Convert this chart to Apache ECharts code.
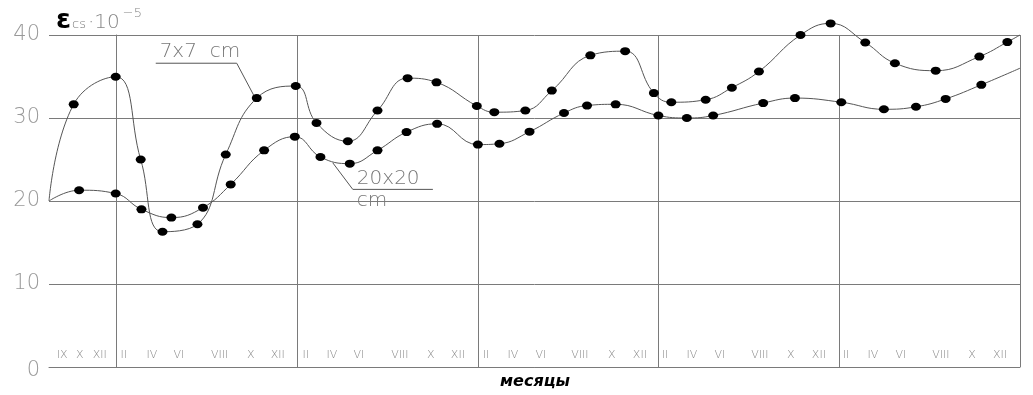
<!DOCTYPE html>
<html>
<head>
<meta charset="utf-8">
<script src="https://cdn.jsdelivr.net/npm/echarts@6/dist/echarts.min.js"></script>
<style>
html, body { margin: 0; padding: 0; background: #fff; }
#container { width: 1033px; height: 395px; }
</style>
</head>
<body>
<div id="container"></div>
<script>
// x = months counted from the first January (0, 12, 24 ... are year boundaries)
const months7 = [-4.5, -2.86, -0.07, 1.59, 3.04, 5.36, 7.24, 9.30, 11.89, 13.27, 15.35, 17.32, 19.32, 21.24, 23.92, 25.08, 27.14, 28.90, 31.46, 33.77, 35.68, 36.84, 39.12, 40.86, 42.66, 45.42, 47.42, 49.72, 51.69, 54.40, 57.30, 59.16, 60];
const values7 = [20.0, 31.65, 34.97, 25.0, 16.3, 17.2, 25.6, 32.4, 33.85, 29.4, 27.2, 30.9, 34.8, 34.3, 31.45, 30.7, 30.9, 33.3, 37.55, 38.05, 33.0, 31.9, 32.2, 33.65, 35.6, 40.0, 41.4, 39.1, 36.6, 35.7, 37.4, 39.15, 40.0];

const months20 = [-4.5, -2.50, -0.07, 1.64, 3.63, 5.73, 7.57, 9.79, 11.83, 13.53, 15.48, 17.32, 19.25, 21.28, 23.99, 25.42, 27.42, 29.71, 31.24, 33.14, 35.98, 37.87, 39.62, 42.94, 45.05, 48.13, 50.96, 53.09, 55.06, 57.43, 60];
const values20 = [20.0, 21.3, 20.9, 19.0, 18.0, 19.2, 22.0, 26.1, 27.75, 25.3, 24.5, 26.1, 28.3, 29.3, 26.8, 26.9, 28.35, 30.6, 31.5, 31.65, 30.3, 30.0, 30.3, 31.8, 32.4, 31.9, 31.05, 31.35, 32.3, 34.0, 36.0];

const monthLabelPos = [-3.62, -2.46, -1.13,
	0.47, 2.33, 4.12, 6.84, 8.90, 10.70,
	12.56, 14.29, 16.08, 18.80, 20.86, 22.66,
	24.52, 26.31, 28.17, 30.76, 32.89, 34.75,
	36.41, 38.21, 40.07, 42.72, 44.78, 46.64,
	48.44, 50.23, 52.09, 54.75, 56.81, 58.67];
const monthLabelText = ['IX', 'X', 'XII',
	'II', 'IV', 'VI', 'VIII', 'X', 'XII',
	'II', 'IV', 'VI', 'VIII', 'X', 'XII',
	'II', 'IV', 'VI', 'VIII', 'X', 'XII',
	'II', 'IV', 'VI', 'VIII', 'X', 'XII',
	'II', 'IV', 'VI', 'VIII', 'X', 'XII'];
const yearBounds = [0, 12, 24, 36, 48, 60];

const dom = document.getElementById('container');
const myChart = echarts.init(dom);

const thinFont = 'DejaVu Sans';
const gridColor = '#7a7a7a';

function toData(xs, ys) {
	return xs.map((x, i) => {
		const item = { value: [x, ys[i]] };
		if (i === 0 || i === xs.length - 1) item.symbol = 'none';
		return item;
	});
}

const lineSeries = (name, xs, ys) => ({
	name: name,
	type: 'line',
	data: toData(xs, ys),
	smooth: 0.45,
	clip: false,
	symbol: 'circle',
	symbolSize: [10, 8],
	showAllSymbol: true,
	itemStyle: { color: '#000' },
	lineStyle: { color: '#555', width: 1 },
	emphasis: { disabled: true },
});

const option = {
	animation: false,
	title: {
		left: 51,
		top: 2,
		text: '{e|ε}{s|cs}{n|·10}{p|−5}',
		textStyle: {
			rich: {
				e: { fontFamily: 'DejaVu Sans', fontSize: 27, fontWeight: 'bold', color: '#000', verticalAlign: 'bottom' },
				s: { fontFamily: thinFont, fontSize: 13, fontWeight: 200, color: '#777', verticalAlign: 'bottom', padding: [0, 2, 3, 1] },
				n: { fontFamily: thinFont, fontSize: 20, fontWeight: 200, color: '#888', verticalAlign: 'bottom', padding: [0, 0, 1, 0] },
				p: { fontFamily: thinFont, fontSize: 13, fontWeight: 200, color: '#888', verticalAlign: 'top', padding: [0, 0, 0, 3] },
			},
		},
	},
	grid: { left: 49, right: 13, top: 35, bottom: 28, containLabel: false },
	xAxis: {
		type: 'value',
		min: -4.5,
		max: 60,
		axisLine: { show: true, lineStyle: { color: gridColor, width: 1 } },
		axisTick: { show: false, customValues: yearBounds },
		splitLine: { show: true, lineStyle: { color: gridColor, width: 1 } },
		axisLabel: {
			inside: true,
			margin: 6,
			customValues: monthLabelPos,
			fontFamily: thinFont,
			fontSize: 11,
			fontWeight: 200,
			color: '#888',
			formatter: (v) => {
				const i = monthLabelPos.findIndex((p) => Math.abs(p - v) < 1e-6);
				return i >= 0 ? monthLabelText[i] : '';
			},
		},
	},
	yAxis: {
		type: 'value',
		min: 0,
		max: 40,
		interval: 10,
		axisLine: { show: true, lineStyle: { color: gridColor, width: 1 } },
		axisTick: { show: false },
		splitLine: { show: true, lineStyle: { color: gridColor, width: 1 } },
		axisLabel: {
			margin: 9,
			fontFamily: thinFont,
			fontSize: 21,
			fontWeight: 200,
			color: '#999',
			formatter: (v) => (v === 0 ? '{z|0}' : String(v)),
			rich: {
				z: { fontFamily: thinFont, fontSize: 21, fontWeight: 200, color: '#999', padding: [8, 0, 0, 0] },
			},
		},
	},
	series: [
		lineSeries('7x7 cm', months7, values7),
		lineSeries('20x20 cm', months20, values20),
	],
};

myChart.setOption(option);

// callouts, anchored in data coordinates
const px = (x, y) => myChart.convertToPixel({ gridIndex: 0 }, [x, y]);
const callout7 = [[2.59, 36.6], [7.97, 36.6], [9.17, 32.5]];
const callout20 = [[14.35, 24.6], [15.68, 21.4], [21.0, 21.4]];
const labelStyle = { fontFamily: thinFont, fontSize: 20, fontWeight: 200, fill: '#777' };
const p7 = px(2.85, 36.6);
const p20 = px(15.95, 21.4);

myChart.setOption({
	graphic: [
		{ type: 'polyline', shape: { points: callout7.map((c) => px(c[0], c[1])) }, style: { stroke: '#555', lineWidth: 1, fill: null } },
		{ type: 'polyline', shape: { points: callout20.map((c) => px(c[0], c[1])) }, style: { stroke: '#555', lineWidth: 1, fill: null } },
		{ type: 'text', x: p7[0], y: p7[1] - 1, style: Object.assign({ text: '7x7  cm', textVerticalAlign: 'bottom' }, labelStyle) },
		{ type: 'text', x: p20[0], y: p20[1] - 1, style: Object.assign({ text: '20x20', textVerticalAlign: 'bottom' }, labelStyle) },
		{ type: 'text', x: p20[0], y: p20[1] + 1, style: Object.assign({ text: 'cm', textVerticalAlign: 'top' }, labelStyle) },
		{ type: 'text', left: 500, top: 374, style: { text: 'месяцы', fontFamily: 'DejaVu Sans', fontSize: 16, fontWeight: 'bold', fontStyle: 'italic', fill: '#000' } },
	],
});
</script>
</body>
</html>
